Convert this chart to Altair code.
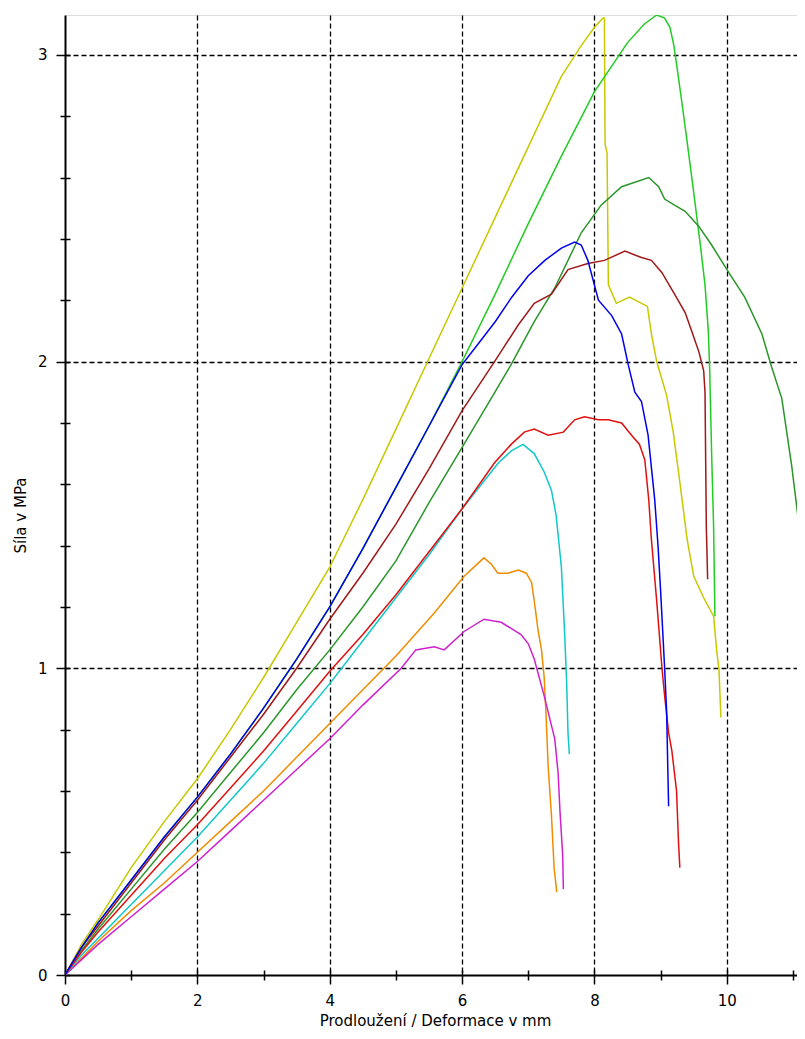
import altair as alt
import pandas as pd

# ---------------- data ----------------
YELLOW_X = [0, 0.25, 0.5, 1.0, 1.5, 2.0, 2.5, 3.0, 3.5, 4.0, 4.5, 5.0, 5.5, 6.0, 6.5, 7.0, 7.5, 7.8, 8.0, 8.13,
            8.15, 8.16, 8.19, 8.21, 8.33, 8.53, 8.8, 8.86, 8.94, 9.09, 9.19, 9.3, 9.4, 9.5, 9.65, 9.8, 9.85, 9.88, 9.91]
YELLOW_Y = [0, 0.1, 0.18, 0.35, 0.5, 0.64, 0.8, 0.97, 1.15, 1.33, 1.55, 1.78, 2.01, 2.24, 2.47, 2.7, 2.93, 3.03, 3.09, 3.12,
            3.12, 2.71, 2.68, 2.25, 2.19, 2.21, 2.18, 2.09, 2.0, 1.89, 1.77, 1.59, 1.42, 1.30, 1.23, 1.17, 1.05, 1.0, 0.84]

GREEN_X = [0, 0.25, 0.5, 1.0, 1.5, 2.0, 2.5, 3.0, 3.5, 4.0, 4.5, 5.0, 5.5, 6.0, 6.5, 7.0, 7.5, 8.0, 8.5, 8.75, 8.94,
           9.06, 9.14, 9.2, 9.26, 9.33, 9.41, 9.5, 9.6, 9.67, 9.72, 9.74, 9.77, 9.8, 9.82]
GREEN_Y = [0, 0.09, 0.17, 0.31, 0.45, 0.58, 0.72, 0.87, 1.03, 1.2, 1.39, 1.59, 1.79, 2.0, 2.22, 2.45, 2.67, 2.88, 3.04, 3.1, 3.13,
           3.12, 3.09, 3.03, 2.94, 2.83, 2.70, 2.55, 2.38, 2.25, 2.1, 1.98, 1.7, 1.46, 1.17]

DKGREEN_X = [0, 0.25, 0.5, 1.0, 1.5, 2.0, 2.5, 3.0, 3.5, 4.0, 4.5, 5.0, 5.5, 6.0, 6.44, 6.74, 7.09, 7.4, 7.8, 8.1, 8.41,
             8.82, 8.97, 9.06, 9.21, 9.37, 9.58, 9.77, 10.03, 10.27, 10.53, 10.68, 10.83, 10.98, 11.14, 11.22]
DKGREEN_Y = [0, 0.08, 0.15, 0.28, 0.41, 0.53, 0.66, 0.79, 0.93, 1.06, 1.20, 1.35, 1.54, 1.72, 1.88, 1.99, 2.13, 2.24, 2.42, 2.51, 2.57,
             2.6, 2.57, 2.53, 2.51, 2.49, 2.44, 2.38, 2.29, 2.21, 2.09, 1.98, 1.88, 1.66, 1.38, 1.13]

DKRED_X = [0, 0.25, 0.5, 1.0, 1.5, 2.0, 2.5, 3.0, 3.5, 4.0, 4.5, 5.0, 5.5, 6.0, 6.49, 6.85, 7.09, 7.35, 7.6, 7.9, 8.15,
           8.46, 8.7, 8.86, 9.02, 9.21, 9.37, 9.5, 9.58, 9.65, 9.67, 9.69, 9.71]
DKRED_Y = [0, 0.09, 0.16, 0.30, 0.44, 0.57, 0.71, 0.85, 1.0, 1.16, 1.31, 1.47, 1.65, 1.84, 2.0, 2.12, 2.19, 2.22, 2.30, 2.32, 2.33,
           2.36, 2.34, 2.33, 2.29, 2.22, 2.16, 2.08, 2.03, 1.97, 1.9, 1.46, 1.29]

ORANGE_X = [0, 0.25, 0.5, 1.0, 1.5, 2.0, 2.5, 3.0, 3.5, 4.0, 4.5, 5.0, 5.58, 6.03, 6.33, 6.44, 6.54, 6.69, 6.85, 6.97,
            7.05, 7.09, 7.15, 7.2, 7.24, 7.27, 7.3, 7.35, 7.39, 7.43]
ORANGE_Y = [0, 0.055, 0.11, 0.21, 0.30, 0.40, 0.50, 0.60, 0.71, 0.82, 0.93, 1.04, 1.18, 1.30, 1.36, 1.34, 1.31, 1.31, 1.32, 1.31,
            1.28, 1.22, 1.12, 1.06, 0.97, 0.84, 0.68, 0.52, 0.35, 0.27]

MAGENTA_X = [0, 0.25, 0.5, 1.0, 1.5, 2.0, 2.5, 3.0, 3.5, 4.0, 4.5, 5.08, 5.3, 5.58, 5.73, 6.03, 6.33, 6.59, 6.74, 6.89,
             7.0, 7.09, 7.24, 7.4, 7.45, 7.48, 7.52, 7.53]
MAGENTA_Y = [0, 0.05, 0.1, 0.19, 0.28, 0.37, 0.47, 0.57, 0.67, 0.77, 0.88, 1.0, 1.06, 1.07, 1.06, 1.12, 1.16, 1.15, 1.13, 1.11,
             1.08, 1.03, 0.91, 0.77, 0.66, 0.53, 0.39, 0.28]

CYAN_X = [0, 0.25, 0.5, 1.0, 1.5, 2.0, 2.5, 3.0, 3.5, 4.0, 4.5, 5.0, 5.5, 6.0, 6.55, 6.75, 6.92, 7.09, 7.24, 7.35,
          7.42, 7.5, 7.55, 7.58, 7.6, 7.62]
CYAN_Y = [0, 0.065, 0.12, 0.23, 0.34, 0.45, 0.57, 0.69, 0.82, 0.95, 1.09, 1.23, 1.37, 1.52, 1.67, 1.71, 1.73, 1.70, 1.64, 1.58,
          1.50, 1.33, 1.11, 0.95, 0.79, 0.72]

RED_X = [0, 0.25, 0.5, 1.0, 1.5, 2.0, 2.5, 3.0, 3.5, 4.0, 4.5, 5.0, 5.5, 6.0, 6.49, 6.74, 6.94, 7.09, 7.3, 7.53,
         7.7, 7.85, 8.06, 8.21, 8.41, 8.56, 8.68, 8.76, 8.82, 8.86, 8.94, 9.02, 9.06, 9.12, 9.17, 9.24, 9.27, 9.29]
RED_Y = [0, 0.075, 0.14, 0.26, 0.38, 0.49, 0.61, 0.73, 0.86, 0.99, 1.11, 1.24, 1.38, 1.52, 1.67, 1.73, 1.77, 1.78, 1.76, 1.77,
         1.81, 1.82, 1.81, 1.81, 1.80, 1.76, 1.73, 1.68, 1.55, 1.42, 1.22, 1.0, 0.91, 0.79, 0.73, 0.6, 0.43, 0.35]

BLUE_X = [0, 0.25, 0.5, 1.0, 1.5, 2.0, 2.5, 3.0, 3.5, 4.0, 4.5, 5.0, 5.5, 6.0, 6.25, 6.5, 6.75, 7.0, 7.25, 7.5, 7.7, 7.8,
          7.9, 8.06, 8.26, 8.41, 8.51, 8.61, 8.71, 8.81, 8.91, 8.96, 9.0, 9.06, 9.09, 9.12]
BLUE_Y = [0, 0.09, 0.17, 0.31, 0.45, 0.58, 0.72, 0.87, 1.03, 1.2, 1.39, 1.59, 1.79, 1.99, 2.06, 2.13, 2.21, 2.28, 2.33, 2.37, 2.39, 2.38,
          2.33, 2.2, 2.15, 2.09, 1.99, 1.9, 1.87, 1.76, 1.55, 1.4, 1.25, 1.0, 0.86, 0.55]

SERIES_NAMES = ["yellow", "green", "darkgreen", "darkred", "orange", "magenta", "cyan", "red", "blue"]
SERIES_COLORS = ["#c8c800", "#22cc22", "#2a962a", "#a01818", "#f08c00", "#d020d0", "#10c8c8", "#e01010", "#0000ee"]
SERIES_DATA = [(YELLOW_X, YELLOW_Y), (GREEN_X, GREEN_Y), (DKGREEN_X, DKGREEN_Y), (DKRED_X, DKRED_Y),
               (ORANGE_X, ORANGE_Y), (MAGENTA_X, MAGENTA_Y), (CYAN_X, CYAN_Y), (RED_X, RED_Y), (BLUE_X, BLUE_Y)]

X_TICKS = list(range(0, 12))
Y_TICKS = [round(0.2 * k, 1) for k in range(16)]

# ---------------- build table ----------------
rows = []
for name, (xs, ys) in zip(SERIES_NAMES, SERIES_DATA):
    for i, (a, b) in enumerate(zip(xs, ys)):
        rows.append({"s": name, "i": i, "x": a, "y": b})
df = pd.DataFrame(rows)

W, H = 732, 960
FONT = "DejaVu Sans"
xscale = alt.Scale(domain=[0, 11.06], nice=False, zero=False)
yscale = alt.Scale(domain=[0, 3.13], nice=False, zero=False)

x_axis = alt.Axis(
    values=X_TICKS,
    labelExpr="datum.value % 2 == 0 ? '' + datum.value : ''",
    grid=True, gridColor="black", gridDash=[5, 3], gridWidth=1.3,
    gridOpacity={"condition": {"test": "datum.value % 2 == 0 && datum.value > 0", "value": 1}, "value": 0},
    domainColor="black", domainWidth=2,
    tickColor="black", tickWidth=1.5,
    tickSize={"condition": {"test": "datum.value % 2 == 0", "value": 9}, "value": 5},
    labelPadding=9, labelFont=FONT, labelFontSize=15, labelColor="black",
    labelFlush=False, labelOverlap=False,
    title="Prodloužení / Deformace v mm", titleFont=FONT, titleFontSize=15, titleFontWeight="normal",
    titleColor="black", titleX=370, titleY=45, titleBaseline="middle", titleAlign="center", titleAnchor="middle",
)
y_axis = alt.Axis(
    values=Y_TICKS,
    labelExpr="abs(datum.value - round(datum.value)) < 0.001 ? '' + round(datum.value) : ''",
    grid=True, gridColor="black", gridDash=[5, 3], gridWidth=1.3,
    gridOpacity={"condition": {"test": "abs(datum.value - round(datum.value)) < 0.001 && datum.value > 0", "value": 1}, "value": 0},
    domainColor="black", domainWidth=2,
    tickColor="black", tickWidth=1.5,
    tickSize={"condition": {"test": "abs(datum.value - round(datum.value)) < 0.001", "value": 9}, "value": 5},
    labelPadding=9, labelFont=FONT, labelFontSize=15, labelColor="black",
    labelFlush=False, labelOverlap=False,
    title="Síla v MPa", titleFont=FONT, titleFontSize=15, titleFontWeight="normal",
    titleColor="black", titleX=-45, titleY=500, titleAngle=270, titleBaseline="middle", titleAlign="center",
)

lines = alt.Chart(df).mark_line(strokeWidth=1.5, clip=True).encode(
    x=alt.X("x:Q", scale=xscale, axis=x_axis),
    y=alt.Y("y:Q", scale=yscale, axis=y_axis),
    color=alt.Color("s:N", scale=alt.Scale(domain=SERIES_NAMES, range=SERIES_COLORS), legend=None),
    order=alt.Order("i:Q"),
)

# inner halves of the tick marks (axes moved onto the bottom/left edges, ticks pointing inwards)
inner = alt.Chart(df).mark_point(opacity=0).encode(
    x=alt.X("x:Q", scale=xscale, axis=alt.Axis(orient="top", offset=-H, values=X_TICKS, labels=False,
                                               domain=False, grid=False, tickColor="black", tickWidth=1.5,
                                               tickSize=5, title=None)),
    y=alt.Y("y:Q", scale=yscale, axis=alt.Axis(orient="right", offset=-W, values=Y_TICKS, labels=False,
                                               domain=False, grid=False, tickColor="black", tickWidth=1.5,
                                               tickSize=5, title=None)),
)

chart = alt.layer(lines, inner).resolve_axis(x="independent", y="independent").properties(
    width=W, height=H,
    autosize=alt.AutoSizeParams(type="none"),
    padding={"left": 57, "top": 7, "right": 0, "bottom": 56},
).configure_view(stroke=None).configure(background="white")

chart.save("out.html", embed_options={"renderer": "svg", "actions": False})
